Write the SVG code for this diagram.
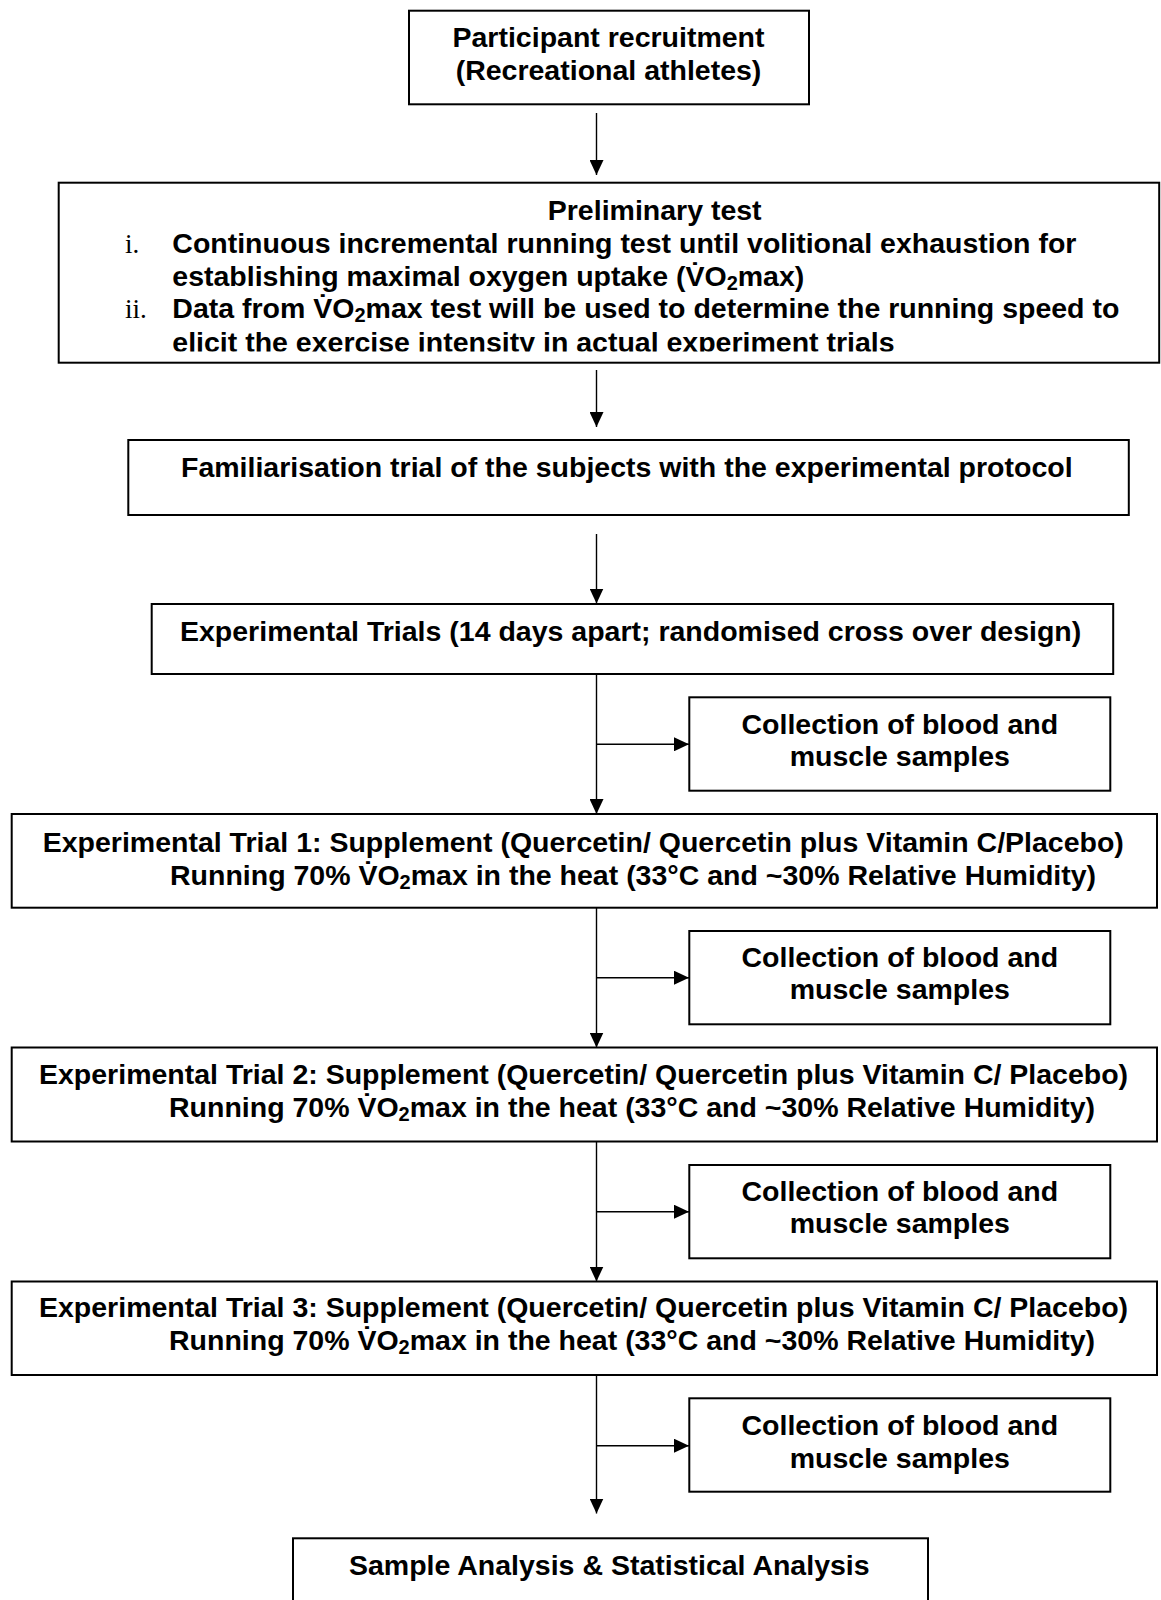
<svg xmlns="http://www.w3.org/2000/svg" width="1161" height="1600" viewBox="0 0 1161 1600">
<style>
.box{fill:#fff;stroke:#000;stroke-width:2}
.t{font-family:"Liberation Sans",Arial,sans-serif;font-weight:bold;font-size:28.5px;fill:#000}
.c{text-anchor:middle}
.rn{font-family:"Liberation Serif","Times New Roman",serif;font-size:27px;fill:#000}
.ln{stroke:#000;stroke-width:1.4;fill:none}
</style>
<defs>
<marker id="ah" markerWidth="15" markerHeight="14" refX="15" refY="7" orient="auto" markerUnits="userSpaceOnUse">
<path d="M0,0 L15,7 L0,14 z" fill="#000"/>
</marker>
<clipPath id="pclip"><rect x="58" y="183" width="1102" height="168.5"/></clipPath>
</defs>
<rect width="1161" height="1600" fill="#fff"/>

<g id="connectors">
<line class="ln" x1="596.5" y1="113" x2="596.5" y2="175" marker-end="url(#ah)"/>
<line class="ln" x1="596.5" y1="370" x2="596.5" y2="427" marker-end="url(#ah)"/>
<line class="ln" x1="596.5" y1="534" x2="596.5" y2="603.5" marker-end="url(#ah)"/>
<line class="ln" x1="596.5" y1="674" x2="596.5" y2="814" marker-end="url(#ah)"/>
<line class="ln" x1="596.5" y1="744.3" x2="689" y2="744.3" marker-end="url(#ah)"/>
<line class="ln" x1="596.5" y1="908" x2="596.5" y2="1047.5" marker-end="url(#ah)"/>
<line class="ln" x1="596.5" y1="977.7" x2="689" y2="977.7" marker-end="url(#ah)"/>
<line class="ln" x1="596.5" y1="1141.5" x2="596.5" y2="1281.5" marker-end="url(#ah)"/>
<line class="ln" x1="596.5" y1="1211.7" x2="689" y2="1211.7" marker-end="url(#ah)"/>
<line class="ln" x1="596.5" y1="1375" x2="596.5" y2="1513.5" marker-end="url(#ah)"/>
<line class="ln" x1="596.5" y1="1445.7" x2="689" y2="1445.7" marker-end="url(#ah)"/>
</g>

<g id="recruitment">
<rect class="box" x="409" y="10.7" width="400" height="93.6"/>
<text class="t c" x="608.5" y="46.7">Participant recruitment</text>
<text class="t c" x="608.5" y="80">(Recreational athletes)</text>
</g>

<g id="preliminary">
<rect class="box" x="58.7" y="182.7" width="1100.5" height="180"/>
<text class="t c" x="654.7" y="220">Preliminary test</text>
<text class="rn" x="125" y="252.7">i.</text>
<text class="rn" x="125" y="318.3">ii.</text>
<g clip-path="url(#pclip)">
<text class="t" x="172.3" y="252.7">Continuous incremental running test until volitional exhaustion for</text>
<text class="t" x="172.3" y="286">establishing maximal oxygen uptake (V&#775;O<tspan font-size="20" dy="4">2</tspan><tspan dy="-4">max)</tspan></text>
<text class="t" x="172.3" y="318.3">Data from V&#775;O<tspan font-size="20" dy="4">2</tspan><tspan dy="-4">max test will be used to determine the running speed to</tspan></text>
<text class="t" x="172.3" y="351.7">elicit the exercise intensity in actual experiment trials</text>
</g>
</g>

<g id="familiarisation">
<rect class="box" x="128.3" y="440" width="1000.5" height="75"/>
<text class="t" x="181" y="476.7">Familiarisation trial of the subjects with the experimental protocol</text>
</g>

<g id="experimental-trials">
<rect class="box" x="151.7" y="604" width="961.5" height="70"/>
<text class="t" x="180" y="641">Experimental Trials (14 days apart; randomised cross over design)</text>
</g>

<g id="collection-1">
<rect class="box" x="689.3" y="697.3" width="421" height="93.4"/>
<text class="t c" x="899.8" y="734">Collection of blood and</text>
<text class="t c" x="899.8" y="765.7">muscle samples</text>
</g>

<g id="trial-1">
<rect class="box" x="11.7" y="814" width="1145.3" height="93.7"/>
<text class="t" x="42.7" y="851.5">Experimental Trial 1: Supplement (Quercetin/ Quercetin plus Vitamin C/Placebo)</text>
<text class="t" x="170" y="885">Running 70% V&#775;O<tspan font-size="20" dy="4">2</tspan><tspan dy="-4">max in the heat (33°C and ~30% Relative Humidity)</tspan></text>
</g>

<g id="collection-2">
<rect class="box" x="689.3" y="931" width="421" height="93.3"/>
<text class="t c" x="899.8" y="967.3">Collection of blood and</text>
<text class="t c" x="899.8" y="999.3">muscle samples</text>
</g>

<g id="trial-2">
<rect class="box" x="11.7" y="1047.5" width="1145.3" height="94"/>
<text class="t" x="39" y="1084">Experimental Trial 2: Supplement (Quercetin/ Quercetin plus Vitamin C/ Placebo)</text>
<text class="t" x="169" y="1116.7">Running 70% V&#775;O<tspan font-size="20" dy="4">2</tspan><tspan dy="-4">max in the heat (33°C and ~30% Relative Humidity)</tspan></text>
</g>

<g id="collection-3">
<rect class="box" x="689.3" y="1165" width="421" height="93.3"/>
<text class="t c" x="899.8" y="1200.7">Collection of blood and</text>
<text class="t c" x="899.8" y="1233.3">muscle samples</text>
</g>

<g id="trial-3">
<rect class="box" x="11.7" y="1281.5" width="1145.3" height="93.5"/>
<text class="t" x="39" y="1317.3">Experimental Trial 3: Supplement (Quercetin/ Quercetin plus Vitamin C/ Placebo)</text>
<text class="t" x="169" y="1350">Running 70% V&#775;O<tspan font-size="20" dy="4">2</tspan><tspan dy="-4">max in the heat (33°C and ~30% Relative Humidity)</tspan></text>
</g>

<g id="collection-4">
<rect class="box" x="689.3" y="1398.3" width="421" height="93.4"/>
<text class="t c" x="899.8" y="1435">Collection of blood and</text>
<text class="t c" x="899.8" y="1467.7">muscle samples</text>
</g>

<g id="analysis">
<rect class="box" x="293" y="1538.3" width="635" height="80"/>
<text class="t" x="349" y="1575">Sample Analysis &amp; Statistical Analysis</text>
</g>
</svg>
